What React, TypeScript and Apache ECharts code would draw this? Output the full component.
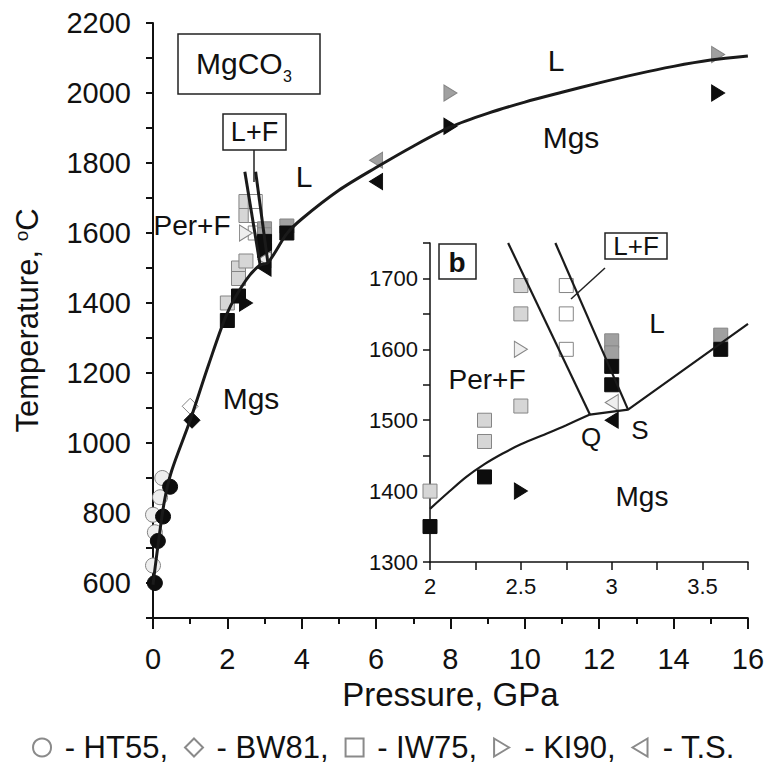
import React, { useEffect, useRef } from 'react';
import * as echarts from 'echarts';

const FONT = '"Liberation Sans", Arial, Helvetica, sans-serif';

// ---------- tick labels ----------
const pressureTicks = [0, 2, 4, 6, 8, 10, 12, 14, 16];
const tempTicks = [600, 800, 1000, 1200, 1400, 1600, 1800, 2000, 2200];
const insetPressureTicks = [2, 2.5, 3, 3.5];
const insetTempTicks = [1300, 1400, 1500, 1600, 1700];
const legendNames = ['HT55', 'BW81', 'IW75', 'KI90', 'T.S.'];

// ---------- curves (P GPa, T °C) ----------
const meltCurveMain = [
  [0, 595], [0.1, 680], [0.3, 830], [0.5, 920], [1, 1065], [1.5, 1225], [2, 1372],
  [2.5, 1465], [2.88, 1509], [3.09, 1515], [3.6, 1598], [4, 1640], [5, 1722],
  [6, 1787], [7, 1848], [8, 1903], [9, 1942], [10, 1974], [11, 2002], [12, 2029],
  [13, 2054], [14, 2076], [15, 2094], [16, 2106],
];
const lfLeftMain = [[2.47, 1775], [2.88, 1509]];
const lfRightMain = [[2.76, 1775], [3.09, 1515]];

const insetCurveLow = [
  [2.0, 1375], [2.1, 1398], [2.2, 1420], [2.3, 1438], [2.4, 1453], [2.5, 1466],
  [2.65, 1482], [2.75, 1493], [2.88, 1508],
];
const insetCurveHigh = [[2.88, 1508], [3.09, 1515], [3.75, 1636]];
const lfLeftInset = [[2.43, 1750], [2.88, 1508]];
const lfRightInset = [[2.69, 1750], [3.09, 1515]];

// ---------- experimental points ----------
const ht55Open = [[0, 650], [0.05, 745], [0, 795], [0.19, 845], [0.25, 900]];
const ht55Solid = [[0.05, 600], [0.13, 720], [0.27, 790], [0.46, 875]];
const bw81Open = [[1.0, 1105]];
const bw81Solid = [[1.05, 1065]];
const iw75Solid = [[2.0, 1350], [2.3, 1420], [3.0, 1576], [3.0, 1550], [3.6, 1600]];
const iw75Gray = [[3.0, 1612], [3.0, 1595], [3.6, 1620]];
const iw75Light = [[2.0, 1400], [2.3, 1500], [2.3, 1470], [2.5, 1690], [2.5, 1650], [2.5, 1520]];
const iw75Open = [[2.75, 1690], [2.75, 1650], [2.75, 1600]];
const ki90Solid = [[2.5, 1400], [8, 1905], [15.2, 2000]];
const ki90Gray = [[8, 2000], [15.2, 2110]];
const ki90Light = [[2.5, 1600]];
const tsSolid = [[3.0, 1500], [6, 1747]];
const tsGray = [[6, 1808]];
const tsLight = [[3.0, 1525]];

const BLACK = '#0d0d0d';
const GRAY = '#a0a0a0';
const LIGHT = '#d6d6d6';
const PALE = '#eeeeee';
const WHITE = '#ffffff';
const EDGE = '#858585';

const RIGHT_TRI = 'path://M0,0 L10,6 L0,12 Z';
const LEFT_TRI = 'path://M10,0 L0,6 L10,12 Z';

type Pt = number[];
const style = (arr: Pt[], fill: string) =>
  arr.map((p) => ({
    value: [p[0], p[1]],
    itemStyle: { color: fill, borderColor: fill === BLACK ? BLACK : EDGE, borderWidth: 1, opacity: 1 },
  }));

const inInset = (d: { value: number[] }) =>
  d.value[0] >= 2 && d.value[0] <= 3.75 && d.value[1] >= 1300 && d.value[1] <= 1750;

const ht55Data = [...style(ht55Open, PALE), ...style(ht55Solid, BLACK)];
const bw81Data = [...style(bw81Open, WHITE), ...style(bw81Solid, BLACK)];
const iw75Data = [...style(iw75Light, LIGHT), ...style(iw75Open, WHITE), ...style(iw75Gray, GRAY), ...style(iw75Solid, BLACK)];
const ki90Data = [...style(ki90Light, PALE), ...style(ki90Gray, GRAY), ...style(ki90Solid, BLACK)];
const tsData = [...style(tsLight, PALE), ...style(tsGray, GRAY), ...style(tsSolid, BLACK)];

const legendItemStyle = { color: WHITE, borderColor: '#8a8a8a', borderWidth: 1.2, opacity: 1 };

function scatter(name: string, symbol: string, size: any, data: any[], idx: number) {
  return {
    type: 'scatter',
    name,
    xAxisIndex: idx,
    yAxisIndex: idx,
    symbol,
    symbolSize: size,
    itemStyle: legendItemStyle,
    data: idx === 1 ? data.filter(inInset) : data,
    z: 3,
  };
}

function line(data: Pt[], idx: number, width: number, smooth: number | boolean) {
  return {
    type: 'line',
    xAxisIndex: idx,
    yAxisIndex: idx,
    data,
    smooth,
    showSymbol: false,
    symbol: 'none',
    lineStyle: { color: '#1a1a1a', width },
    z: 5,
    silent: true,
  };
}

const axisCommon = {
  type: 'value',
  splitLine: { show: false },
  axisLine: { onZero: false, lineStyle: { color: '#111', width: 2 } },
};

function text(x: number, y: number, t: string, size: number, extra: any = {}) {
  return {
    type: 'text',
    x,
    y,
    style: {
      text: t,
      fontSize: size,
      fontFamily: FONT,
      fill: '#111',
      align: 'center',
      verticalAlign: 'middle',
      ...extra,
    },
    z: 10,
  };
}
function box(x: number, y: number, w: number, h: number) {
  return { type: 'rect', shape: { x, y, width: w, height: h }, style: { fill: 'rgba(0,0,0,0)', stroke: '#222', lineWidth: 1.5 }, z: 10 };
}
function seg(x1: number, y1: number, x2: number, y2: number) {
  return { type: 'line', shape: { x1, y1, x2, y2 }, style: { stroke: '#222', lineWidth: 1.5 }, z: 10 };
}

export default function App() {
  const ref = useRef<HTMLDivElement>(null);
  useEffect(() => {
    if (!ref.current) return;
    const chart = echarts.init(ref.current, undefined, { renderer: 'svg' });
    const option: any = {
      animation: false,
      backgroundColor: '#ffffff',
      textStyle: { fontFamily: FONT },
      grid: [
        { left: 153, right: 19, top: 23, bottom: 149 },
        { left: 430, right: 19, top: 243, bottom: 205 },
      ],
      xAxis: [
        {
          ...axisCommon,
          gridIndex: 0,
          min: 0,
          max: 16,
          interval: 2,
          name: 'Pressure, GPa',
          nameLocation: 'middle',
          nameGap: 58,
          nameTextStyle: { fontSize: 33, color: '#111', fontFamily: FONT },
          axisTick: { length: 11, lineStyle: { width: 2, color: '#111' } },
          minorTick: { show: true, splitNumber: 2, length: 6, lineStyle: { width: 2, color: '#111' } },
          axisLabel: {
            fontSize: 29,
            color: '#111',
            margin: 26,
            fontFamily: FONT,
            formatter: (v: number) => (pressureTicks.includes(v) ? String(v) : ''),
          },
        },
        {
          ...axisCommon,
          gridIndex: 1,
          min: 2,
          max: 3.75,
          interval: 0.25,
          axisTick: { length: 8, lineStyle: { width: 1.5, color: '#111' } },
          axisLine: { onZero: false, lineStyle: { color: '#111', width: 1.5 } },
          axisLabel: {
            fontSize: 22,
            color: '#111',
            margin: 13,
            fontFamily: FONT,
            formatter: (v: number) => (insetPressureTicks.includes(v) ? String(v) : ''),
          },
        },
      ],
      yAxis: [
        {
          ...axisCommon,
          gridIndex: 0,
          min: 500,
          max: 2200,
          interval: 100,
          name: 'Temperature, {sup|o}C',
          nameLocation: 'middle',
          nameGap: 110,
          nameRotate: 90,
          nameTextStyle: {
            fontSize: 31,
            color: '#111',
            fontFamily: FONT,
            rich: { sup: { fontSize: 19, verticalAlign: 'top', color: '#111', fontFamily: FONT } },
          },
          axisTick: { length: 7, lineStyle: { width: 2, color: '#111' } },
          axisLabel: {
            fontSize: 29,
            color: '#111',
            margin: 22,
            fontFamily: FONT,
            formatter: (v: number) => (tempTicks.includes(v) ? String(v) : ''),
          },
        },
        {
          ...axisCommon,
          gridIndex: 1,
          min: 1300,
          max: 1750,
          interval: 50,
          axisTick: { length: 7, lineStyle: { width: 1.5, color: '#111' } },
          axisLine: { onZero: false, lineStyle: { color: '#111', width: 1.5 } },
          axisLabel: {
            fontSize: 22,
            color: '#111',
            margin: 12,
            fontFamily: FONT,
            formatter: (v: number) => (insetTempTicks.includes(v) ? String(v) : ''),
          },
        },
      ],
      legend: {
        data: legendNames,
        left: 'center',
        top: 727,
        itemWidth: 18,
        itemHeight: 18,
        itemGap: 16,
        selectedMode: false,
        formatter: (n: string) => (n === 'T.S.' ? ' - T.S.' : ' - ' + n + ','),
        textStyle: { fontSize: 31, color: '#111', fontFamily: FONT },
      },
      series: [
        scatter('HT55', 'circle', 15, ht55Data, 0),
        scatter('BW81', 'diamond', 16, bw81Data, 0),
        scatter('IW75', 'rect', 14, iw75Data, 0),
        scatter('KI90', RIGHT_TRI, [13, 16], ki90Data, 0),
        scatter('T.S.', LEFT_TRI, [13, 16], tsData, 0),
        scatter('IW75', 'rect', 14, iw75Data, 1),
        scatter('KI90', RIGHT_TRI, [13, 16], ki90Data, 1),
        scatter('T.S.', LEFT_TRI, [13, 16], tsData, 1),
        line(meltCurveMain, 0, 3, 0.3),
        line(lfLeftMain, 0, 3, false),
        line(lfRightMain, 0, 3, false),
        line(insetCurveLow, 1, 2.2, 0.3),
        line(insetCurveHigh, 1, 2.2, false),
        line(lfLeftInset, 1, 2.2, false),
        line(lfRightInset, 1, 2.2, false),
      ],
      graphic: [
        // main panel annotations
        box(178, 34, 142, 60),
        text(196, 63, 'MgCO', 30, { align: 'left' }),
        text(283, 76, '3', 16, { align: 'left' }),
        box(223, 114, 63, 36),
        text(254.5, 132, 'L+F', 27),
        seg(254, 150, 254, 182),
        text(556, 60, 'L', 30),
        text(571, 137, 'Mgs', 30),
        text(304, 176, 'L', 30),
        text(192, 225, 'Per+F', 28),
        text(251, 398, 'Mgs', 30),
        // inset annotations
        box(439, 244, 37, 35),
        text(457, 262, 'b', 28, { fontWeight: 'bold' }),
        box(605, 233, 62, 26),
        text(636, 246, 'L+F', 26),
        seg(605, 268, 571, 299),
        text(657, 323, 'L', 28),
        text(487, 379, 'Per+F', 28),
        text(591, 437, 'Q', 26),
        text(640, 430, 'S', 26),
        text(642, 496, 'Mgs', 28),
      ],
    };
    chart.setOption(option);
    return () => chart.dispose();
  }, []);
  return <div ref={ref} style={{ width: 767, height: 767, position: 'absolute', left: 0, top: 0 }} />;
}
